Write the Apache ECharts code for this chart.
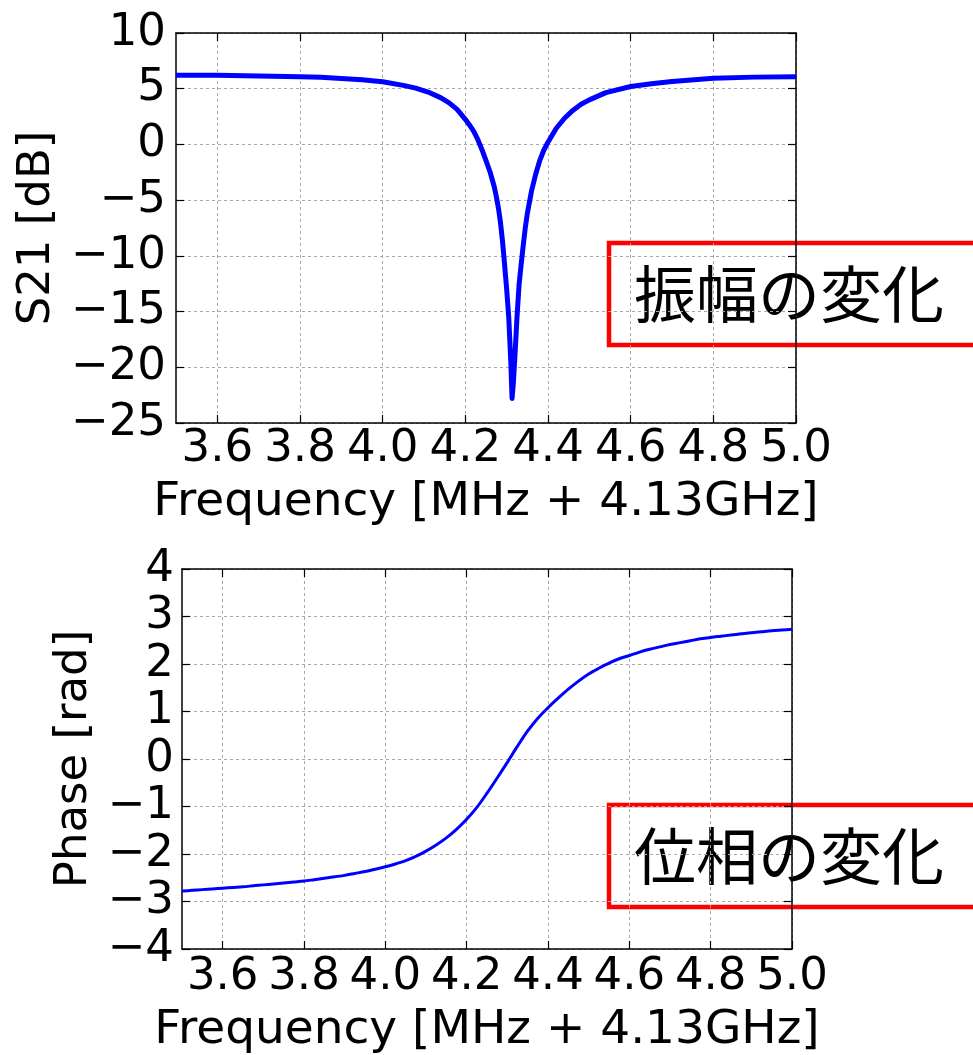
<!DOCTYPE html>
<html>
<head>
<meta charset="utf-8">
<script src="https://cdn.jsdelivr.net/npm/echarts@6/dist/echarts.min.js"></script>
<style>
  html, body { margin: 0; padding: 0; background: #fff; }
  #chart { width: 973px; height: 1055px; }
</style>
</head>
<body>
<div id="chart"></div>
<script>
// Transmission S21 magnitude around the resonance (frequency offset in MHz, level in dB)
const freqAmp = [3.50, 3.60, 3.70, 3.80, 3.85, 3.90, 3.95, 4.00, 4.05, 4.08, 4.11, 4.14, 4.16, 4.18,
  4.20, 4.21, 4.22, 4.23, 4.24, 4.25, 4.26, 4.27, 4.275, 4.28, 4.285, 4.29, 4.295, 4.30, 4.305, 4.310, 4.313,
  4.316, 4.320, 4.325, 4.330, 4.335, 4.34, 4.345, 4.35, 4.36, 4.37, 4.38, 4.39, 4.40, 4.42, 4.44, 4.46, 4.48,
  4.50, 4.54, 4.60, 4.65, 4.70, 4.80, 4.90, 5.00];
const ampDb = [6.20, 6.20, 6.15, 6.08, 6.02, 5.92, 5.80, 5.63, 5.30, 5.05, 4.70, 4.20, 3.75, 3.15,
  2.25, 1.75, 1.20, 0.45, -0.45, -1.45, -2.50, -3.80, -4.70, -5.70, -7.00, -8.70, -10.80, -13.00, -15.50, -19.50, -22.80,
  -21.50, -19.00, -15.50, -12.60, -10.80, -9.10, -7.50, -6.20, -4.20, -2.70, -1.45, -0.50, 0.20, 1.45, 2.35, 3.05, 3.60,
  4.00, 4.65, 5.20, 5.45, 5.65, 5.93, 6.04, 6.07];

// Phase of S21 (rad), one reading every 0.025 MHz
const freqPhase = [3.500, 3.525, 3.550, 3.575, 3.600, 3.625, 3.650, 3.675, 3.700, 3.725, 3.750, 3.775,
  3.800, 3.825, 3.850, 3.875, 3.900, 3.925, 3.950, 3.975, 4.000, 4.025, 4.050, 4.075, 4.100, 4.125,
  4.150, 4.175, 4.200, 4.225, 4.250, 4.275, 4.300, 4.325, 4.350, 4.375, 4.400, 4.425, 4.450, 4.475,
  4.500, 4.525, 4.550, 4.575, 4.600, 4.625, 4.650, 4.675, 4.700, 4.725, 4.750, 4.775, 4.800, 4.825,
  4.850, 4.875, 4.900, 4.925, 4.950, 4.975, 5.000];
const phaseRad = [-2.780, -2.765, -2.750, -2.735, -2.720, -2.705, -2.690, -2.670, -2.650, -2.630, -2.610, -2.590,
  -2.570, -2.540, -2.510, -2.480, -2.450, -2.410, -2.370, -2.320, -2.270, -2.210, -2.140, -2.050, -1.940, -1.810,
  -1.660, -1.480, -1.270, -1.020, -0.720, -0.400, -0.070, 0.270, 0.590, 0.860, 1.080, 1.280, 1.470, 1.640,
  1.790, 1.910, 2.020, 2.110, 2.180, 2.250, 2.310, 2.360, 2.410, 2.450, 2.490, 2.530, 2.560, 2.585,
  2.610, 2.635, 2.660, 2.680, 2.700, 2.715, 2.730];

const freqTicks = [3.6, 3.8, 4.0, 4.2, 4.4, 4.6, 4.8, 5.0];
const xTitle = 'Frequency [MHz + 4.13GHz]';
const ampTitle = 'S21 [dB]';
const phaseTitle = 'Phase [rad]';
const ampNote = '振幅の変化';
const phaseNote = '位相の変化';

const FONT = 'DejaVu Sans';
const gridLine = { show: true, lineStyle: { color: '#a8a8a8', width: 1, type: [3, 3] } };
const tickIn = { show: true, inside: true, length: 8, lineStyle: { color: '#000', width: 1.2 } };
const frame = { show: true, onZero: false, lineStyle: { color: '#000', width: 1.5 } };
const fmtY = v => (v < 0 ? '\u2212' + Math.abs(v) : String(v));

function xAxes(gridIndex, labelMargin, nameGap) {
  return [{
    type: 'value', gridIndex, position: 'bottom', min: 3.5, max: 5.0,
    axisLine: frame,
    axisTick: Object.assign({ customValues: freqTicks }, tickIn),
    axisLabel: { customValues: freqTicks, formatter: v => v.toFixed(1), color: '#000',
      fontFamily: FONT, fontSize: 45, margin: labelMargin },
    splitLine: gridLine,
    name: xTitle, nameLocation: 'middle', nameGap,
    nameTextStyle: { color: '#000', fontFamily: FONT, fontSize: 47 }
  }, {
    type: 'value', gridIndex, position: 'top', min: 3.5, max: 5.0,
    axisLine: frame,
    axisTick: Object.assign({ customValues: freqTicks }, tickIn),
    axisLabel: { show: false }, splitLine: { show: false }
  }];
}

function yAxes(gridIndex, min, max, interval, title, labelMargin, nameGap) {
  return [{
    type: 'value', gridIndex, position: 'left', min, max, interval,
    axisLine: frame,
    axisTick: tickIn,
    axisLabel: { formatter: fmtY, color: '#000', fontFamily: FONT, fontSize: 45, margin: labelMargin },
    splitLine: gridLine,
    name: title, nameLocation: 'middle', nameGap, nameRotate: 90,
    nameTextStyle: { color: '#000', fontFamily: FONT, fontSize: 45 }
  }, {
    type: 'value', gridIndex, position: 'right', min, max, interval,
    axisLine: frame,
    axisTick: tickIn, axisLabel: { show: false }, splitLine: { show: false }
  }];
}

function noteBox(text, top) {
  return {
    type: 'group', z: 100,
    children: [{
      type: 'rect', shape: { x: 609, y: top, width: 400, height: 102 },
      style: { fill: '#fff', stroke: '#ff0000', lineWidth: 4.5 }
    }, {
      type: 'text', x: 634, y: top + 51,
      style: { text, fill: '#000', font: '62px "Noto Sans CJK JP"', verticalAlign: 'middle', align: 'left' }
    }]
  };
}

const chart = echarts.init(document.getElementById('chart'), null, { renderer: 'canvas' });
chart.setOption({
  animation: false,
  backgroundColor: '#fff',
  grid: [
    { left: 176, top: 33, width: 620, height: 390 },
    { left: 182, top: 569, width: 610, height: 383 }
  ],
  xAxis: [...xAxes(0, 4, 56), ...xAxes(1, 6, 58)],
  yAxis: [...yAxes(0, -25, 10, 5, ampTitle, 10, 112), ...yAxes(1, -4, 4, 1, phaseTitle, 8, 82)],
  series: [{
    type: 'line', xAxisIndex: 0, yAxisIndex: 0, showSymbol: false, smooth: false,
    lineStyle: { color: '#0000ff', width: 5, join: 'round' },
    data: freqAmp.map((f, i) => [f, ampDb[i]])
  }, {
    type: 'line', xAxisIndex: 2, yAxisIndex: 2, showSymbol: false, smooth: 0.3,
    lineStyle: { color: '#0000ff', width: 3 },
    data: freqPhase.map((f, i) => [f, phaseRad[i]])
  }],
  graphic: [noteBox(ampNote, 243), noteBox(phaseNote, 805)]
});
</script>
</body>
</html>
